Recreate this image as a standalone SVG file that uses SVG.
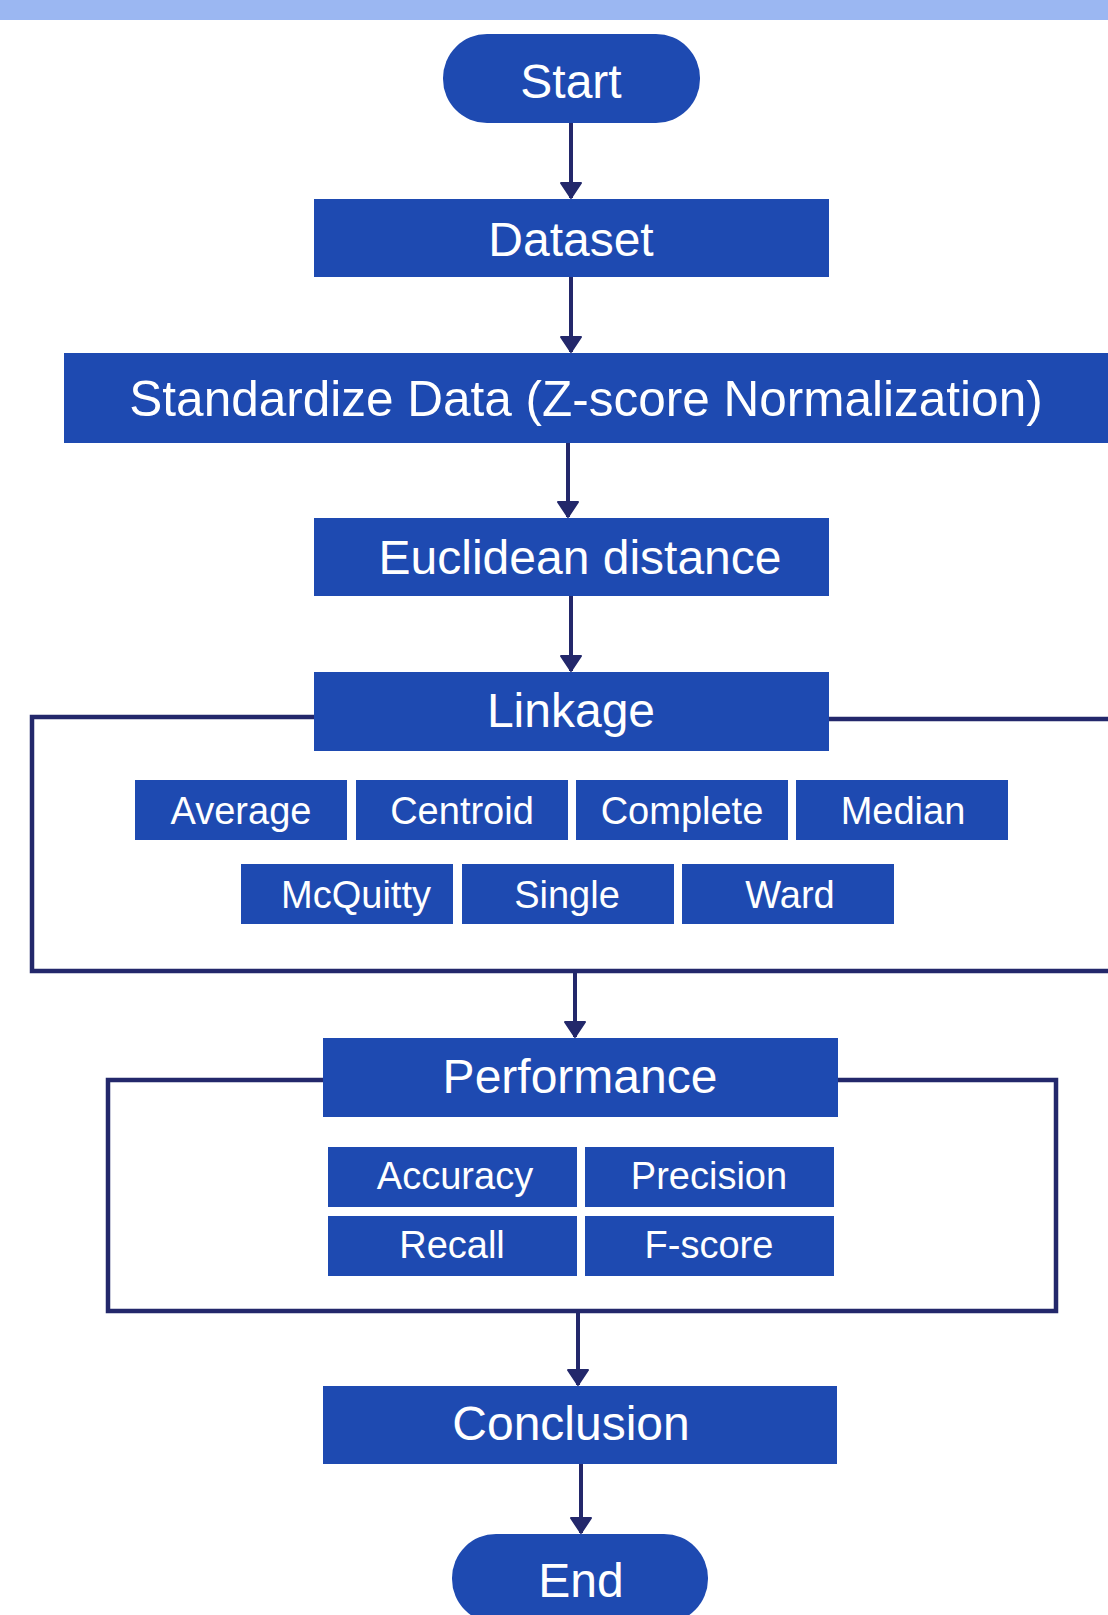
<svg xmlns="http://www.w3.org/2000/svg" width="1108" height="1615" viewBox="0 0 1108 1615">
<style>
.n{fill:#1E4AB1}
.t{fill:#fff;font-family:"Liberation Sans",Arial,sans-serif;text-anchor:middle}
.L{font-size:48px}
.s{font-size:38px}
.c{stroke:#23286B;stroke-width:4;fill:none}
.b{stroke:#23286B;stroke-width:4.5;fill:none}
</style>
<defs>
<marker id="a" markerUnits="userSpaceOnUse" markerWidth="24" markerHeight="24" refX="20" refY="12" orient="auto" viewBox="0 0 24 24">
<path d="M5,2 L20,12 L5,22 Z" fill="#23286B" stroke="#23286B" stroke-width="2" stroke-linejoin="round"/>
</marker>
</defs>
<rect width="1108" height="1615" fill="#fff"/>
<rect x="0" y="0" width="1108" height="20" fill="#9BB7F2"/>
<g id="connectors">
<line class="c" x1="571" y1="123" x2="571" y2="198" marker-end="url(#a)"/>
<line class="c" x1="571" y1="277" x2="571" y2="352" marker-end="url(#a)"/>
<line class="c" x1="568" y1="443" x2="568" y2="517" marker-end="url(#a)"/>
<line class="c" x1="571" y1="596" x2="571" y2="671" marker-end="url(#a)"/>
<line class="c" x1="575" y1="971" x2="575" y2="1037" marker-end="url(#a)"/>
<line class="c" x1="578" y1="1311" x2="578" y2="1385" marker-end="url(#a)"/>
<line class="c" x1="581" y1="1464" x2="581" y2="1533" marker-end="url(#a)"/>
<path class="b" d="M316,717 H32 V971 H1112"/>
<path class="b" d="M827,719 H1112"/>
<path class="b" d="M325,1080 H108 V1311 H1056 V1080 H836"/>
</g>
<g id="start"><rect class="n" x="443" y="34" width="257" height="89" rx="44" ry="44"/><text class="t L" x="571" y="98">Start</text></g>
<g id="dataset"><rect class="n" x="314" y="199" width="515" height="78"/><text class="t L" x="571" y="256">Dataset</text></g>
<g id="standardize"><rect class="n" x="64" y="353" width="1050" height="90"/><text class="t" style="font-size:49.5px" x="586" y="416">Standardize Data (Z-score Normalization)</text></g>
<g id="euclidean"><rect class="n" x="314" y="518" width="515" height="78"/><text class="t L" x="580" y="574">Euclidean distance</text></g>
<g id="linkage"><rect class="n" x="314" y="672" width="515" height="79"/><text class="t L" x="571" y="727">Linkage</text></g>
<g id="average"><rect class="n" x="135" y="780" width="212" height="60"/><text class="t s" x="241" y="824">Average</text></g>
<g id="centroid"><rect class="n" x="356" y="780" width="212" height="60"/><text class="t s" x="462" y="824">Centroid</text></g>
<g id="complete"><rect class="n" x="576" y="780" width="212" height="60"/><text class="t s" x="682" y="824">Complete</text></g>
<g id="median"><rect class="n" x="796" y="780" width="212" height="60"/><text class="t s" x="903" y="824">Median</text></g>
<g id="mcquitty"><rect class="n" x="241" y="864" width="212" height="60"/><text class="t s" x="356" y="908">McQuitty</text></g>
<g id="single"><rect class="n" x="462" y="864" width="212" height="60"/><text class="t s" x="567" y="908">Single</text></g>
<g id="ward"><rect class="n" x="682" y="864" width="212" height="60"/><text class="t s" x="790" y="908">Ward</text></g>
<g id="performance"><rect class="n" x="323" y="1038" width="515" height="79"/><text class="t L" x="580" y="1093">Performance</text></g>
<g id="accuracy"><rect class="n" x="328" y="1147" width="249" height="60"/><text class="t s" x="455" y="1189">Accuracy</text></g>
<g id="precision"><rect class="n" x="585" y="1147" width="249" height="60"/><text class="t s" x="709" y="1189">Precision</text></g>
<g id="recall"><rect class="n" x="328" y="1216" width="249" height="60"/><text class="t s" x="452" y="1258">Recall</text></g>
<g id="fscore"><rect class="n" x="585" y="1216" width="249" height="60"/><text class="t s" x="709" y="1258">F-score</text></g>
<g id="conclusion"><rect class="n" x="323" y="1386" width="514" height="78"/><text class="t L" x="571" y="1440">Conclusion</text></g>
<g id="end"><rect class="n" x="452" y="1534" width="256" height="89" rx="44" ry="44"/><text class="t L" x="581" y="1597">End</text></g>
</svg>
